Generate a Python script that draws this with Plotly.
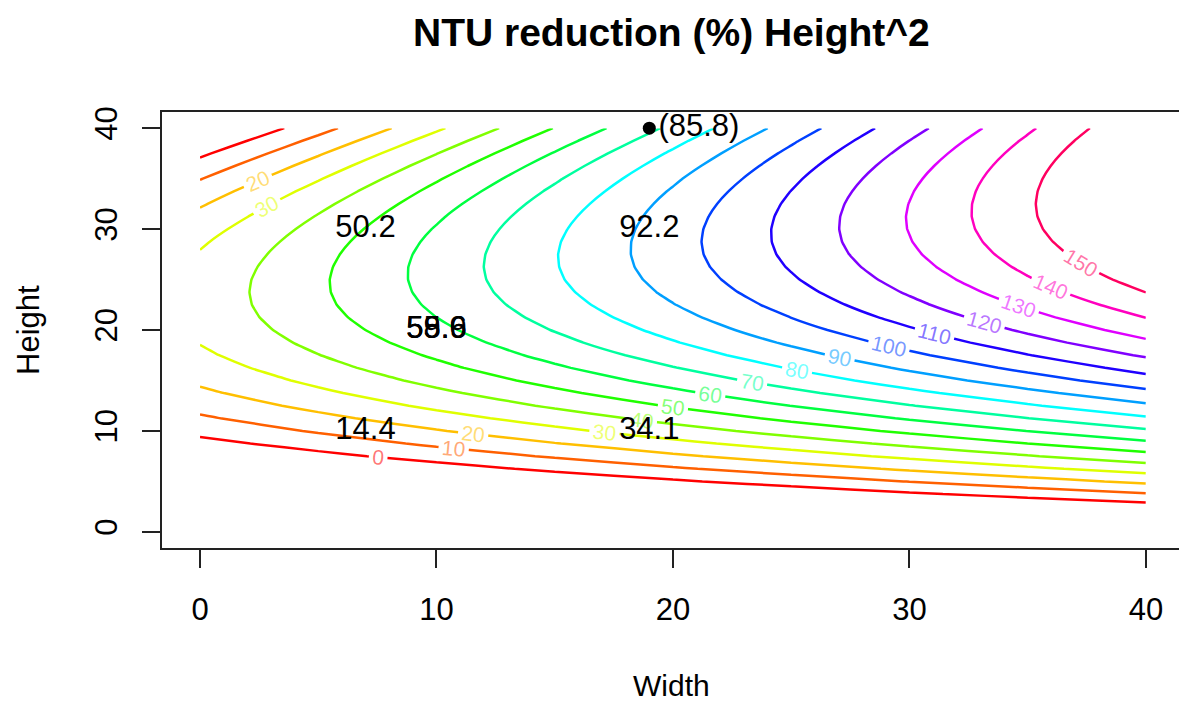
import plotly.graph_objects as go

# Grid (Width along columns, Height along rows)
width_vals = [0, 5, 10, 15, 20, 25, 30, 35, 40]
height_vals = [0, 1.25, 2.5, 3.75, 5, 6.25, 7.5, 8.75, 10, 11.25, 12.5, 13.75, 15, 16.25,
               17.5, 18.75, 20, 21.25, 22.5, 23.75, 25, 26.25, 27.5, 28.75, 30, 31.25,
               32.5, 33.75, 35, 36.25, 37.5, 38.75, 40]

# NTU reduction (%) estimated on the grid, one row per Height value
ntu_reduction = [
    [-61.70, -58.13, -54.55, -50.98, -47.40, -43.83, -40.25, -36.68, -33.10],
    [-51.69, -47.54, -43.39, -39.24, -35.08, -30.93, -26.78, -22.63, -18.48],
    [-42.23, -37.50, -32.78, -28.05, -23.32, -18.59, -13.87, -9.14, -4.41],
    [-33.33, -28.02, -22.72, -17.42, -12.11, -6.81, -1.50, 3.80, 9.10],
    [-24.98, -19.10, -13.22, -7.34, -1.46, 4.42, 10.30, 16.18, 22.06],
    [-17.18, -10.72, -4.26, 2.19, 8.65, 15.10, 21.56, 28.02, 34.47],
    [-9.93, -2.90, 4.13, 11.17, 18.20, 25.23, 32.26, 39.30, 46.33],
    [-3.24, 4.37, 11.98, 19.59, 27.20, 34.80, 42.41, 50.02, 57.63],
    [2.90, 11.09, 19.27, 27.46, 35.64, 43.83, 52.01, 60.20, 68.38],
    [8.49, 17.25, 26.01, 34.77, 43.53, 52.29, 61.05, 69.81, 78.58],
    [13.52, 22.86, 32.19, 41.53, 50.87, 60.21, 69.54, 78.88, 88.22],
    [18.00, 27.91, 37.83, 47.74, 57.65, 67.57, 77.48, 87.40, 97.31],
    [21.93, 32.42, 42.91, 53.40, 63.89, 74.38, 84.87, 95.36, 105.85],
    [25.30, 36.36, 47.43, 58.50, 69.56, 80.63, 91.70, 102.76, 113.83],
    [28.12, 39.76, 51.40, 63.05, 74.69, 86.33, 97.97, 109.62, 121.26],
    [30.39, 42.60, 54.82, 67.04, 79.26, 91.48, 103.70, 115.92, 128.14],
    [32.10, 44.90, 57.69, 70.49, 83.28, 96.08, 108.87, 121.67, 134.46],
    [33.26, 46.63, 60.00, 73.37, 86.75, 100.12, 113.49, 126.86, 140.23],
    [33.87, 47.82, 61.76, 75.71, 89.66, 103.61, 117.55, 131.50, 145.45],
    [33.92, 48.45, 62.97, 77.49, 92.02, 106.54, 121.07, 135.59, 150.11],
    [33.43, 48.53, 63.63, 78.73, 93.83, 108.93, 124.03, 139.13, 154.23],
    [32.37, 48.05, 63.73, 79.40, 95.08, 110.75, 126.43, 142.11, 157.78],
    [30.77, 47.02, 63.27, 79.53, 95.78, 112.03, 128.28, 144.54, 160.79],
    [28.61, 45.44, 62.27, 79.10, 95.93, 112.76, 129.58, 146.41, 163.24],
    [25.90, 43.31, 60.71, 78.12, 95.52, 112.93, 130.33, 147.74, 165.14],
    [22.64, 40.62, 58.60, 76.58, 94.56, 112.54, 130.52, 148.51, 166.49],
    [18.82, 37.38, 55.93, 74.49, 93.05, 111.61, 130.16, 148.72, 167.28],
    [14.45, 33.58, 52.72, 71.85, 90.98, 110.12, 129.25, 148.38, 167.52],
    [9.53, 29.24, 48.95, 68.66, 88.37, 108.08, 127.79, 147.50, 167.21],
    [4.05, 24.33, 44.62, 64.91, 85.19, 105.48, 125.77, 146.05, 166.34],
    [-1.98, 18.88, 39.74, 60.61, 81.47, 102.33, 123.19, 144.06, 164.92],
    [-8.56, 12.87, 34.31, 55.75, 77.19, 98.63, 120.07, 141.51, 162.95],
    [-15.70, 6.32, 28.33, 50.35, 72.36, 94.38, 116.39, 138.41, 160.42],
]

contour_levels = [0, 10, 20, 30, 40, 50, 60, 70, 80, 90, 100, 110, 120, 130, 140, 150]
level_colors = ["#FF0000", "#FF6000", "#FFBF00", "#DFFF00", "#80FF00", "#20FF00",
                "#00FF40", "#00FF9F", "#00FFFF", "#009FFF", "#0040FF", "#2000FF",
                "#8000FF", "#DF00FF", "#FF00BF", "#FF0060"]

# Observed points written as text
point_width = [7, 19, 7, 19, 10, 10, 10]
point_height = [30, 30, 10, 10, 20, 20, 20]
point_labels = ["50.2", "92.2", "14.4", "34.1", "59.6", "58.9", "55.6"]

# Highlighted point
hl_width = [19]
hl_height = [40]
hl_labels = ["(85.8)"]

FONT = "Liberation Sans, Arial, Helvetica, sans-serif"


def light(hexc, a=0.55):
    r, g, b = int(hexc[1:3], 16), int(hexc[3:5], 16), int(hexc[5:7], 16)
    return f"rgba({r},{g},{b},{a})"


fig = go.Figure()
for lev, col in zip(contour_levels, level_colors):
    fig.add_trace(go.Contour(
        x=width_vals, y=height_vals, z=ntu_reduction,
        autocontour=False,
        contours=dict(start=lev, end=lev, size=10, coloring="lines",
                      showlabels=True,
                      labelfont=dict(family=FONT, size=21, color=light(col))),
        colorscale=[[0, col], [1, col]],
        showscale=False,
        line=dict(width=2.5, smoothing=0.3),
        hoverinfo="skip",
    ))

fig.add_trace(go.Scatter(
    x=point_width, y=point_height, text=point_labels, mode="text",
    textfont=dict(family=FONT, size=31, color="black"),
    hoverinfo="skip", showlegend=False,
))
fig.add_trace(go.Scatter(
    x=hl_width, y=hl_height, text=hl_labels, mode="markers+text",
    textposition="middle right",
    marker=dict(color="black", size=13),
    textfont=dict(family=FONT, size=31, color="black"),
    hoverinfo="skip", showlegend=False,
))

fig.update_layout(
    width=1179, height=704,
    margin=dict(l=162, r=0, t=112, b=156),
    paper_bgcolor="white", plot_bgcolor="white",
    showlegend=False,
    font=dict(family=FONT, size=31, color="black"),
    annotations=[
        dict(text="<b>NTU reduction (%) Height^2</b>", xref="paper", yref="paper",
             x=(671 - 162) / 1017, y=(548 - 33) / 436, xanchor="center", yanchor="middle",
             showarrow=False, font=dict(family=FONT, size=39, color="black")),
        dict(text="Width", xref="paper", yref="paper",
             x=(671 - 162) / 1017, y=(548 - 685) / 436, xanchor="center", yanchor="middle",
             showarrow=False, font=dict(family=FONT, size=30, color="black")),
        dict(text="Height", xref="paper", yref="paper", textangle=-90,
             x=(28 - 162) / 1017, y=0.5, xanchor="center", yanchor="middle",
             showarrow=False, font=dict(family=FONT, size=31, color="black")),
    ],
)
fig.update_xaxes(range=[-1.607, 41.40], tickvals=[0, 10, 20, 30, 40],
                 ticks="outside", ticklen=18, tickwidth=1.5, tickcolor="#222",
                 ticklabelstandoff=15,
                 showline=True, linecolor="#222", linewidth=2, mirror=True,
                 showgrid=False, zeroline=False,
                 tickfont=dict(family=FONT, size=31, color="black"))
fig.update_yaxes(range=[-1.6, 41.6], tickvals=[0, 10, 20, 30, 40],
                 ticks="outside", ticklen=18, tickwidth=1.5, tickcolor="#222",
                 ticklabelstandoff=13, tickangle=-90,
                 showline=True, linecolor="#222", linewidth=2, mirror=False,
                 showgrid=False, zeroline=False,
                 tickfont=dict(family=FONT, size=31, color="black"))

fig.write_html("out.html", config={"displayModeBar": False})
